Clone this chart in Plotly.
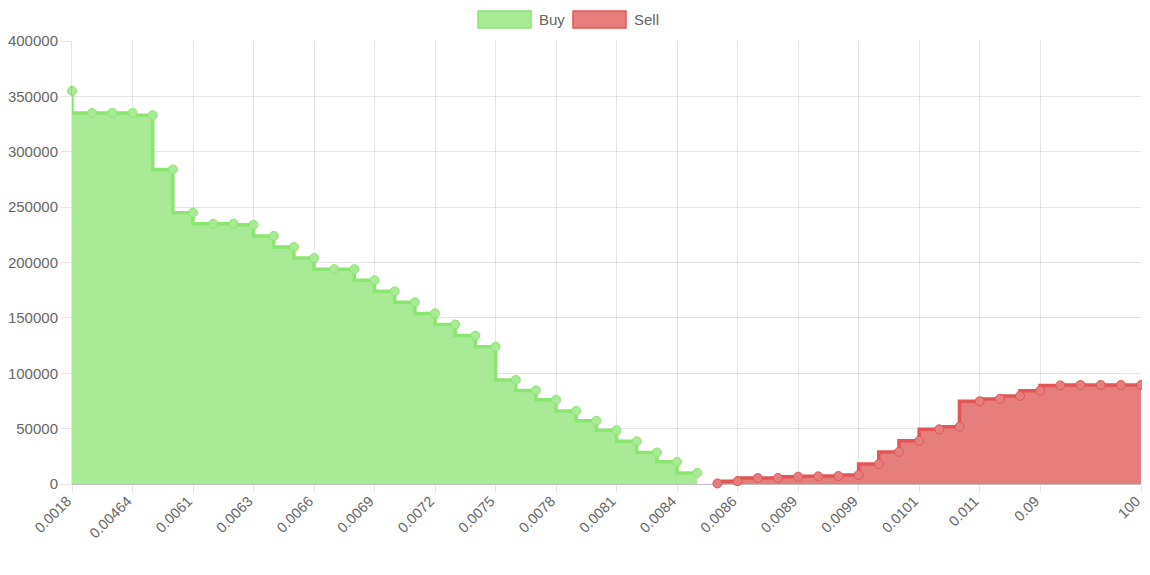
import plotly.graph_objects as go

categories = [
    "0.0018", "0.003", "0.004", "0.00464", "0.005", "0.006", "0.0061", "0.00615", "0.0062",
    "0.0063", "0.0064", "0.0065", "0.0066", "0.0067", "0.0068", "0.0069", "0.007", "0.0071",
    "0.0072", "0.0073", "0.0074", "0.0075", "0.0076", "0.0077", "0.0078", "0.0079", "0.008",
    "0.0081", "0.0082", "0.0083", "0.0084", "0.0085", "0.00855", "0.0086", "0.0087", "0.0088",
    "0.0089", "0.009", "0.0095", "0.0099", "0.01", "0.01005", "0.0101", "0.0102", "0.0105",
    "0.011", "0.012", "0.05", "0.09", "0.1", "1", "10", "50", "100",
]

buy_values = [
    355000, 335000, 335000, 335000, 333000, 284000, 245000, 235000, 235000, 234000,
    224000, 214000, 204000, 194000, 194000, 184000, 174000, 164000, 154000, 144000,
    134000, 124000, 94000, 84500, 76000, 66000, 57000, 48500, 38500, 28500, 20000, 10000,
]
sell_values = [
    500, 2500, 5400, 5400, 6600, 6900, 7200, 8100, 18000, 29000, 39000, 49400,
    51800, 74700, 76800, 79500, 84300, 89000, 89400, 89400, 89400, 89400,
]

buy_x = categories[:len(buy_values)]
sell_x = categories[len(buy_values):]

tick_labels = categories[0:49:3] + [categories[-1]]

BUY_LINE = "rgb(138,230,112)"
BUY_FILL = "rgb(168,234,149)"
SELL_LINE = "rgb(226,86,86)"
SELL_FILL = "rgb(230,126,126)"
FONT = "Liberation Sans, Arial, sans-serif"
GRID = "rgba(0,0,0,0.1)"

fig = go.Figure()
fig.add_trace(go.Scatter(
    x=buy_x, y=buy_values, name="Buy", mode="lines+markers",
    line=dict(color=BUY_LINE, width=3.5, shape="vh"),
    fill="tozeroy", fillcolor=BUY_FILL,
    marker=dict(size=9, color=BUY_FILL, line=dict(color=BUY_LINE, width=1)),
    cliponaxis=False, showlegend=False,
))
fig.add_trace(go.Scatter(
    x=sell_x, y=sell_values, name="Sell", mode="lines+markers",
    line=dict(color=SELL_LINE, width=3.5, shape="vh"),
    fill="tozeroy", fillcolor=SELL_FILL,
    marker=dict(size=9, color=SELL_FILL, line=dict(color=SELL_LINE, width=1)),
    cliponaxis=False, showlegend=False,
))

# the page body has an 8px margin, so the figure is sized to fit inside it
OFF = 8
W, H = 1150 - OFF, 575 - OFF
L, R, T, B = 72 - OFF, 9, 41 - OFF, 575 - 484
pw, ph = W - L - R, H - T - B


def px(x):
    return (x - OFF - L) / pw


def py(y):
    return (H - B - (y - OFF)) / ph


shapes = []
annotations = []
for (x0, x1, tx, label, fillc, linec) in [
    (478, 531, 537, "Buy", BUY_FILL, BUY_LINE),
    (573, 626, 632, "Sell", SELL_FILL, SELL_LINE),
]:
    shapes.append(dict(type="rect", xref="paper", yref="paper",
                       x0=px(x0), x1=px(x1), y0=py(28), y1=py(11),
                       fillcolor=fillc, line=dict(color=linec, width=1.5)))
    annotations.append(dict(xref="paper", yref="paper", x=px(tx), y=py(19.5),
                            text=label, showarrow=False, xanchor="left", yanchor="middle",
                            font=dict(family=FONT, size=15, color="#666")))

fig.update_layout(
    width=W, height=H,
    margin=dict(l=L, r=R, t=T, b=B, pad=0, autoexpand=False),
    paper_bgcolor="white", plot_bgcolor="white",
    font=dict(family=FONT, size=15, color="#666"),
    shapes=shapes, annotations=annotations,
    hovermode=False,
    xaxis=dict(
        type="category", categoryorder="array", categoryarray=categories,
        range=[0, len(categories) - 1], automargin=False,
        tickmode="array", tickvals=tick_labels, ticktext=tick_labels,
        tickangle=-45, showgrid=True, gridcolor=GRID, gridwidth=1,
        ticks="outside", ticklen=8, tickcolor=GRID,
        ticklabelshift=-5, ticklabelstandoff=-6,
        showline=False, zeroline=False,
        tickfont=dict(family=FONT, size=14.5, color="#666"),
    ),
    yaxis=dict(
        range=[0, 400000], dtick=50000, tickformat="d", automargin=False,
        showgrid=True, gridcolor=GRID, gridwidth=1,
        zeroline=True, zerolinecolor="rgba(0,0,0,0.25)", zerolinewidth=1,
        ticks="outside", ticklen=10, tickcolor=GRID,
        showline=True, linecolor=GRID, linewidth=1,
        tickfont=dict(family=FONT, size=15, color="#666"),
    ),
)

fig.write_html("out.html")
